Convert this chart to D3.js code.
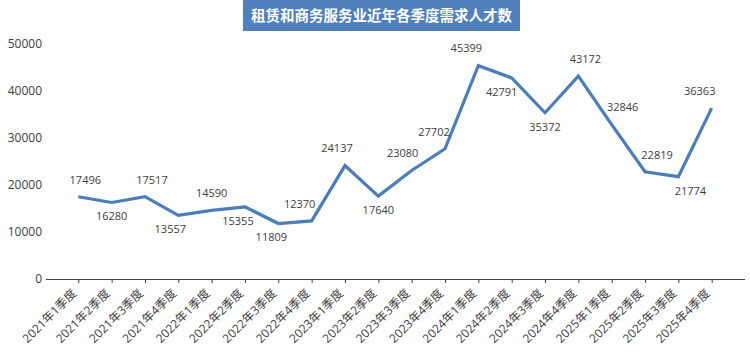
<!DOCTYPE html>
<html>
<head>
<meta charset="utf-8">
<script src="https://cdn.jsdelivr.net/npm/d3@7/dist/d3.min.js"></script>
<style>
  html, body { margin: 0; padding: 0; background: #fff; }
  svg { display: block; }
</style>
</head>
<body>
<svg id="chart" width="750" height="353"></svg>
<script>
const title = "租赁和商务服务业近年各季度需求人才数";
const categories = [
  "2021年1季度","2021年2季度","2021年3季度","2021年4季度",
  "2022年1季度","2022年2季度","2022年3季度","2022年4季度",
  "2023年1季度","2023年2季度","2023年3季度","2023年4季度",
  "2024年1季度","2024年2季度","2024年3季度","2024年4季度",
  "2025年1季度","2025年2季度","2025年3季度","2025年4季度"
];
const values = [
  17496, 16280, 17517, 13557,
  14590, 15355, 11809, 12370,
  24137, 17640, 23080, 27702,
  45399, 42791, 35372, 43172,
  32846, 22819, 21774, 36363
];
const yTicks = [0, 10000, 20000, 30000, 40000, 50000];
// label placement style: above (u) or below (d), with small horizontal nudge
const labelSide = ["u","d","u","d","u","d","d","u","u","d","u","u","u","d","d","u","u","u","d","u"];
const labelNudge = [7,0,7,-8,0,-7,-7,-12,-8,0,-9,-11,-12,-10,0,7,11,12,12,-12];

const svg = d3.select("#chart");
const font = "'Open Sans', 'Noto Sans CJK SC', sans-serif";
const cjkFont = "'Noto Sans CJK SC', sans-serif";
const lineColor = "#4a7ebb";
const textColor = "#404040";

const x = d3.scalePoint().domain(categories).range([78.3, 711.7]);
const y = d3.scaleLinear().domain([0, 50000]).range([279, 44]);

// Title box
const tg = svg.append("g");
tg.append("rect").attr("x", 243).attr("y", 0).attr("width", 277).attr("height", 31)
  .attr("fill", "#4f7fbd");
tg.append("text").attr("x", 381.5).attr("y", 16).attr("dy", "0.35em")
  .attr("text-anchor", "middle").attr("fill", "#fff")
  .attr("font-family", cjkFont).attr("font-weight", "bold").attr("font-size", 14.5)
  .text(title);

// Y axis labels
const yAxis = d3.axisLeft(y).tickValues(yTicks).tickSize(0).tickPadding(0).tickFormat(d3.format("d"));
const yg = svg.append("g").attr("transform", "translate(42,0)").call(yAxis);
yg.select(".domain").remove();
yg.selectAll("text").attr("font-family", font).attr("font-size", 12).attr("fill", textColor);

// X axis
const xAxis = d3.axisBottom(x).tickSize(4).tickSizeOuter(0).tickFormat("");
const xg = svg.append("g").attr("transform", "translate(0,279)").call(xAxis);
xg.select(".domain").remove();
xg.selectAll(".tick line").attr("stroke", "#444").attr("stroke-width", 1);
svg.append("line").attr("x1", 46).attr("x2", 745).attr("y1", 279.5).attr("y2", 279.5)
  .attr("stroke", "#444").attr("stroke-width", 1);

svg.append("g").selectAll("text").data(categories).join("text")
  .attr("transform", d => `translate(${x(d) - 1},294) rotate(-45)`)
  .attr("text-anchor", "end")
  .attr("font-family", font).attr("font-size", 12).attr("fill", textColor)
  .text(d => d);

// Line
const line = d3.line().x((d, i) => x(categories[i])).y(d => y(d));
svg.append("path").datum(values).attr("d", line)
  .attr("fill", "none").attr("stroke", lineColor).attr("stroke-width", 3.2)
  .attr("stroke-linejoin", "miter");

// Data labels
svg.append("g").selectAll("text").data(values).join("text")
  .attr("x", (d, i) => x(categories[i]) + labelNudge[i])
  .attr("y", (d, i) => y(d) + (labelSide[i] === "u" ? -17 : 14))
  .attr("dy", "0.35em")
  .attr("text-anchor", "middle")
  .attr("font-family", font).attr("font-size", 11).attr("fill", textColor)
  .text(d => d);
</script>
</body>
</html>
